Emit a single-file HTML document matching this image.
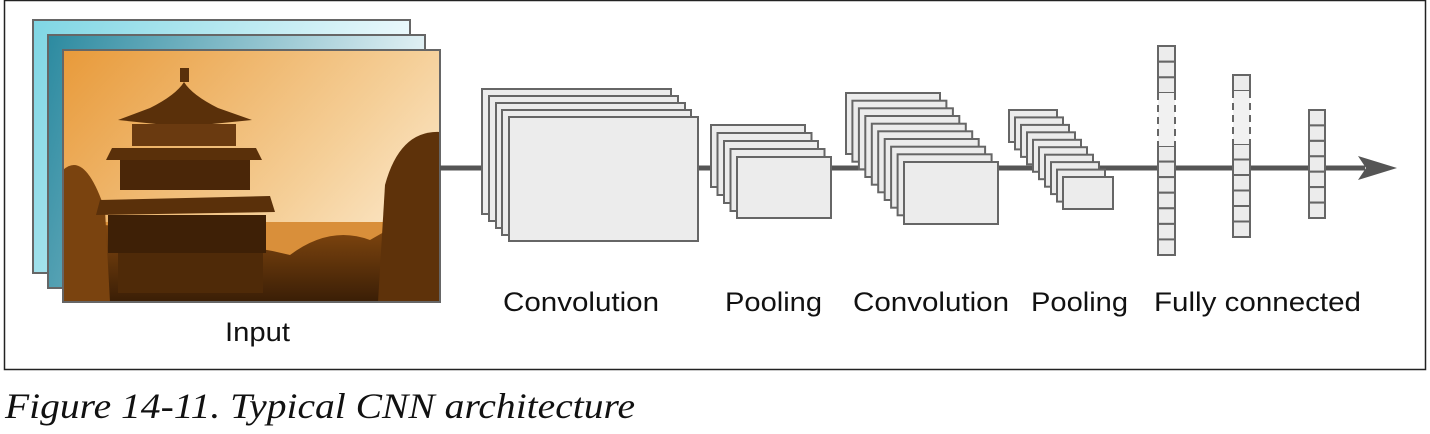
<!DOCTYPE html>
<html><head><meta charset="utf-8"><style>
html,body{margin:0;padding:0;background:#fff;}
svg{display:block;}
</style></head><body>
<svg width="1430" height="434" viewBox="0 0 1430 434" xmlns="http://www.w3.org/2000/svg">
<defs>
<linearGradient id="cy1" x1="0" y1="0" x2="1" y2="0.3"><stop offset="0" stop-color="#7fd6e4"/><stop offset="1" stop-color="#f2fbfd"/></linearGradient>
<linearGradient id="cy2" x1="0" y1="0" x2="1" y2="0.2"><stop offset="0" stop-color="#2c8aa0"/><stop offset="1" stop-color="#e6f3f6"/></linearGradient>
<linearGradient id="sky" x1="0" y1="0" x2="1" y2="0.6"><stop offset="0" stop-color="#e89a3a"/><stop offset="0.7" stop-color="#f5cf98"/><stop offset="1" stop-color="#fbe6c6"/></linearGradient>
<linearGradient id="ground" x1="0" y1="0" x2="0" y2="1"><stop offset="0" stop-color="#9a5512"/><stop offset="1" stop-color="#3a1e06"/></linearGradient>
<clipPath id="pc"><rect x="63" y="50" width="377" height="252"/></clipPath>
</defs>
<rect x="4.5" y="0.5" width="1421" height="369" fill="#fff" stroke="#222" stroke-width="1.5"/>
<rect x="33" y="20" width="377" height="253" fill="url(#cy1)" stroke="#666" stroke-width="2"/>
<rect x="48" y="35" width="377" height="253" fill="url(#cy2)" stroke="#666" stroke-width="2"/>
<g clip-path="url(#pc)">
<rect x="63" y="50" width="377" height="252" fill="url(#sky)"/>
<rect x="63" y="222" width="377" height="80" fill="#d98f3a"/>
<path d="M63 230 Q120 215 170 245 Q230 240 290 255 Q330 225 370 240 L440 200 L440 302 L63 302Z" fill="url(#ground)"/>
<path d="M378 302 L385 185 Q400 130 440 132 L440 302Z" fill="#5e320a"/>
<path d="M63 170 Q85 150 105 210 L110 302 L63 302Z" fill="#7a430f"/>
<g fill="#5a300a">
<rect x="180" y="68" width="9" height="14"/>
<path d="M150 108 Q176 95 184 82 Q192 95 218 108 L252 120 L212 124 L156 124 L118 120Z"/>
<rect x="132" y="124" width="104" height="22" fill="#6a3a10"/>
<path d="M112 148 L256 148 L262 160 L106 160Z"/>
<rect x="120" y="160" width="130" height="30" fill="#4a2608"/>
<path d="M100 200 L270 196 L275 212 L96 215Z"/>
<rect x="108" y="215" width="158" height="38" fill="#3e2006"/>
<rect x="118" y="253" width="145" height="40" fill="#4f2a08"/>
</g>
</g>
<rect x="63" y="50" width="377" height="252" fill="none" stroke="#666" stroke-width="2"/>
<rect x="440" y="165.5" width="925" height="5" fill="#555"/>
<path d="M1358 156 L1397 168 L1358 180 L1366 168Z" fill="#555"/>
<g fill="#ececec" stroke="#666" stroke-width="2">
<rect x="482" y="89" width="189" height="125"/>
<rect x="489" y="96" width="189" height="125"/>
<rect x="496" y="103" width="189" height="125"/>
<rect x="502" y="110" width="189" height="125"/>
<rect x="509" y="117" width="189" height="124"/>
<rect x="711" y="125" width="94" height="62"/>
<rect x="717.5" y="133" width="94" height="62"/>
<rect x="724" y="141" width="94" height="62"/>
<rect x="730.5" y="149" width="94" height="62"/>
<rect x="737" y="157" width="94" height="61"/>
<rect x="846" y="93" width="94" height="61"/>
<rect x="852.4" y="100.7" width="94" height="61"/>
<rect x="858.9" y="108.3" width="94" height="61"/>
<rect x="865.3" y="116" width="94" height="61"/>
<rect x="871.8" y="123.7" width="94" height="61"/>
<rect x="878.2" y="131.3" width="94" height="61"/>
<rect x="884.7" y="139" width="94" height="61"/>
<rect x="891.1" y="146.7" width="94" height="61"/>
<rect x="897.6" y="154.3" width="94" height="61"/>
<rect x="904" y="162" width="94" height="62"/>
<rect x="1009" y="110" width="48" height="32"/>
<rect x="1015" y="117.4" width="48" height="32"/>
<rect x="1021" y="124.9" width="48" height="32"/>
<rect x="1027" y="132.3" width="48" height="32"/>
<rect x="1033" y="139.8" width="48" height="32"/>
<rect x="1039" y="147.2" width="48" height="32"/>
<rect x="1045" y="154.7" width="48" height="32"/>
<rect x="1051" y="162.1" width="48" height="32"/>
<rect x="1057" y="169.6" width="48" height="32"/>
<rect x="1063" y="177" width="50" height="32"/>
</g>
<g fill="#ececec" stroke="#666" stroke-width="2">
<rect x="1158" y="46" width="17" height="15.7"/><rect x="1158" y="61.7" width="17" height="15.7"/><rect x="1158" y="77.3" width="17" height="15.7"/>
<rect x="1158" y="146" width="17" height="15.6"/><rect x="1158" y="161.6" width="17" height="15.6"/><rect x="1158" y="177.1" width="17" height="15.6"/><rect x="1158" y="192.7" width="17" height="15.6"/><rect x="1158" y="208.3" width="17" height="15.6"/><rect x="1158" y="223.9" width="17" height="15.6"/><rect x="1158" y="239.4" width="17" height="15.6"/>
<rect x="1233" y="75" width="17" height="16"/>
<rect x="1233" y="144" width="17" height="15.5"/><rect x="1233" y="159.5" width="17" height="15.5"/><rect x="1233" y="175" width="17" height="15.5"/><rect x="1233" y="190.5" width="17" height="15.5"/><rect x="1233" y="206" width="17" height="15.5"/><rect x="1233" y="221.5" width="17" height="15.5"/>
<rect x="1309" y="110" width="16" height="15.4"/><rect x="1309" y="125.4" width="16" height="15.4"/><rect x="1309" y="140.9" width="16" height="15.4"/><rect x="1309" y="156.3" width="16" height="15.4"/><rect x="1309" y="171.7" width="16" height="15.4"/><rect x="1309" y="187.1" width="16" height="15.4"/><rect x="1309" y="202.6" width="16" height="15.4"/>
</g>
<g fill="#f1f1f1" stroke="#666" stroke-width="2" stroke-dasharray="7,5">
<rect x="1158" y="93" width="17" height="53" stroke="none"/>
<line x1="1158" y1="93" x2="1158" y2="146"/><line x1="1175" y1="93" x2="1175" y2="146"/>
<rect x="1233" y="91" width="17" height="53" stroke="none"/>
<line x1="1233" y1="91" x2="1233" y2="144"/><line x1="1250" y1="91" x2="1250" y2="144"/>
</g>
<g font-family="Liberation Sans, sans-serif" font-size="27" fill="#111">
<text x="225" y="341" textLength="65" lengthAdjust="spacingAndGlyphs">Input</text>
<text x="503" y="311" textLength="156" lengthAdjust="spacingAndGlyphs">Convolution</text>
<text x="725" y="311" textLength="97" lengthAdjust="spacingAndGlyphs">Pooling</text>
<text x="853" y="311" textLength="156" lengthAdjust="spacingAndGlyphs">Convolution</text>
<text x="1031" y="311" textLength="97" lengthAdjust="spacingAndGlyphs">Pooling</text>
<text x="1154" y="311" textLength="207" lengthAdjust="spacingAndGlyphs">Fully connected</text>
</g>
<text x="5" y="418" font-family="Liberation Serif, serif" font-style="italic" font-size="36" fill="#111" textLength="630" lengthAdjust="spacingAndGlyphs">Figure 14-11. Typical CNN architecture</text>
</svg>
</body></html>
